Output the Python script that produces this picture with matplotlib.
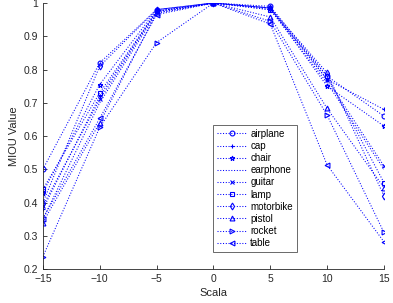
import matplotlib
matplotlib.use("Agg")
import matplotlib.pyplot as plt

plt.rcParams["font.family"] = ["Liberation Sans", "DejaVu Sans"]

scales = [-15, -10, -5, 0, 5, 10, 15]
airplane  = [0.50, 0.82, 0.98, 1.0, 0.990, 0.78, 0.66]
cap       = [0.38, 0.72, 0.975, 1.0, 0.985, 0.77, 0.68]
chair     = [0.43, 0.755, 0.98, 1.0, 0.985, 0.75, 0.63]
earphone  = [0.35, 0.70, 0.97, 1.0, 0.980, 0.76, 0.50]
guitar    = [0.39, 0.71, 0.975, 1.0, 0.985, 0.77, 0.51]
lamp      = [0.44, 0.73, 0.975, 1.0, 0.980, 0.78, 0.46]
motorbike = [0.40, 0.81, 0.98, 1.0, 0.985, 0.79, 0.42]
pistol    = [0.34, 0.64, 0.97, 1.0, 0.958, 0.683, 0.445]
rocket    = [0.237, 0.626, 0.881, 1.0, 0.945, 0.663, 0.31]
table     = [0.352, 0.653, 0.965, 1.0, 0.937, 0.513, 0.282]

names = ["airplane", "cap", "chair", "earphone", "guitar", "lamp",
         "motorbike", "pistol", "rocket", "table"]
series = [airplane, cap, chair, earphone, guitar, lamp, motorbike,
          pistol, rocket, table]
markers = ["o", "+", "*", "None", "x", "s", "d", "^", ">", "<"]

fig = plt.figure(figsize=(3.93, 3.03), dpi=100)
ax = fig.add_axes([0.109, 0.112, 0.868, 0.878])
for name, vals, m in zip(names, series, markers):
    ax.plot(scales, vals, linestyle=":", color="#0000ff", linewidth=0.75,
            marker=m, markersize=3.5, markerfacecolor="none",
            markeredgecolor="#0000ff", markeredgewidth=0.8, label=name)

ax.set_xlim(-15, 15)
ax.set_ylim(0.2, 1.0)
ax.set_xticks(scales)
ax.set_yticks([0.2, 0.3, 0.4, 0.5, 0.6, 0.7, 0.8, 0.9, 1.0])
ax.set_yticklabels(["0.2", "0.3", "0.4", "0.5", "0.6", "0.7", "0.8", "0.9", "1"])
ax.spines["top"].set_visible(False)
ax.spines["right"].set_visible(False)
for s in ("left", "bottom"):
    ax.spines[s].set_color("#262626")
    ax.spines[s].set_linewidth(0.6)
ax.tick_params(direction="in", length=3, width=0.6, colors="#262626",
               labelsize=7.5, labelcolor="#262626")
ax.set_xlabel("Scala", fontsize=8, color="#262626", labelpad=3)
ax.set_ylabel("MIOU Value", fontsize=8, color="#262626", labelpad=3)

leg = ax.legend(loc="lower left", bbox_to_anchor=(0.5, 0.064), fontsize=7,
                frameon=True, fancybox=False, edgecolor="#262626",
                handlelength=3.0, labelspacing=0.22, borderpad=0.4,
                handletextpad=0.4, borderaxespad=0)
leg.get_frame().set_linewidth(0.6)

fig.savefig("out.png", dpi=100)
